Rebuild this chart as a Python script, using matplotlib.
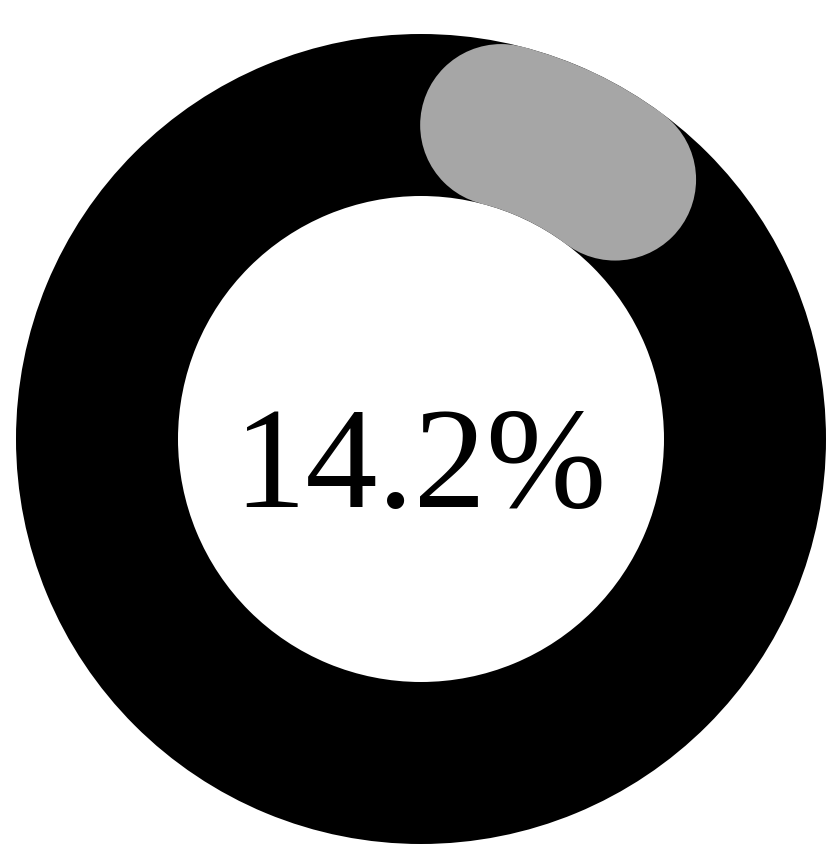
import matplotlib
matplotlib.use("Agg")
import matplotlib.pyplot as plt
import numpy as np
from matplotlib.patches import Wedge, Circle

# data
value = 14.2            # percent shown in the centre
label = "14.2%"
ring_color = "#000000"
value_color = "#a6a6a6"

W, H = 830, 854
CX, CY = 421, 440       # ring centre (pixel space)
R_OUT, R_IN = 405, 243

fig = plt.figure(figsize=(W / 100, H / 100), dpi=100)
ax = fig.add_axes([0, 0, 1, 1])
ax.set_xlim(0, W)
ax.set_ylim(H, 0)
ax.set_aspect("equal")
ax.axis("off")

# background ring
ax.add_patch(Wedge((CX, CY), R_OUT, 0, 360, width=R_OUT - R_IN,
                   facecolor=ring_color, edgecolor="none"))

# value arc with rounded ends, clockwise from 12 o'clock
r_mid = (R_OUT + R_IN) / 2
cap = (R_OUT - R_IN) / 2
span = value / 100 * 360
cap_deg = np.degrees(cap / r_mid)
a0 = cap_deg
a1 = span - cap_deg
t0 = -90 + a0
t1 = -90 + a1
ax.add_patch(Wedge((CX, CY), R_OUT, t0, t1,
                   width=2 * cap, facecolor=value_color, edgecolor="none"))
for a in (a0, a1):
    px = CX + r_mid * np.sin(np.radians(a))
    py = CY - r_mid * np.cos(np.radians(a))
    ax.add_patch(Circle((px, py), cap, facecolor=value_color, edgecolor="none"))

ax.text(420, 507, label, ha="center", va="baseline",
        fontsize=104, family="Liberation Serif", color="#000000")

fig.savefig("out.png", dpi=100, facecolor="white")
